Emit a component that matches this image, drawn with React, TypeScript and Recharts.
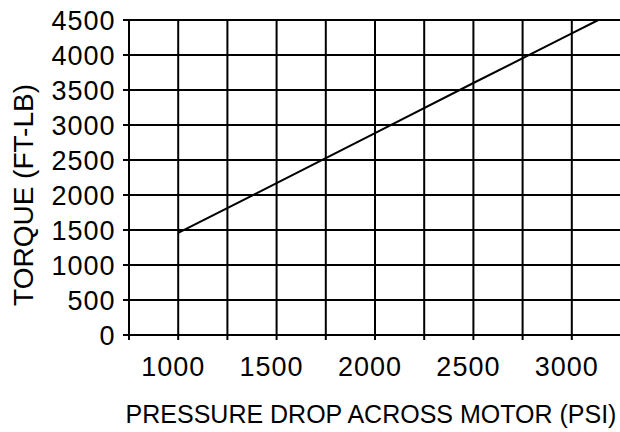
import React from 'react';
import { LineChart, Line, XAxis, YAxis, CartesianGrid } from 'recharts';

const pressure = [1000, 1500, 2000, 2500, 3000, 3135];
const torque = [1460, 2170, 2885, 3600, 4310, 4500];

const xTicks = [750, 1000, 1250, 1500, 1750, 2000, 2250, 2500, 2750, 3000, 3250];
const yTicks = [0, 500, 1000, 1500, 2000, 2500, 3000, 3500, 4000, 4500];

const xTitle = 'PRESSURE DROP ACROSS MOTOR (PSI)';
const yTitle = 'TORQUE (FT-LB)';

const FONT = '"Liberation Sans", Arial, sans-serif';

const chartData = pressure.map((p, i) => ({ psi: p, torque: torque[i] }));

const YTitle = ({ viewBox }: any) => {
  const cy = viewBox.y + viewBox.height / 2 + 17.5;
  return (
    <text
      x={33}
      y={cy}
      transform={`rotate(-90, 33, ${cy})`}
      textAnchor="middle"
      fontSize={28}
      fontFamily={FONT}
      fill="#000"
    >
      {yTitle}
    </text>
  );
};

export default function App() {
  return (
    <div style={{ position: 'absolute', left: 0, top: 0, width: 620, height: 432, overflow: 'hidden', background: '#fff' }}>
      <LineChart width={621} height={432} data={chartData} margin={{ top: 20, right: 0, left: 0, bottom: 0 }}>
        <CartesianGrid stroke="#000" strokeWidth={2} />
        <XAxis
          dataKey="psi"
          type="number"
          domain={[750, 3250]}
          ticks={xTicks}
          interval={0}
          height={97}
          tickSize={5}
          tickMargin={17}
          axisLine={{ stroke: '#000', strokeWidth: 2 }}
          tickLine={{ stroke: '#000', strokeWidth: 2 }}
          tick={{ fill: '#000', fontSize: 27, fontFamily: FONT, letterSpacing: 1, dx: -5 }}
          tickFormatter={(v: number) => (v >= 1000 && v % 500 === 0 ? String(v) : '')}
          label={{
            value: xTitle,
            position: 'insideBottom',
            offset: 9,
            dx: -4,
            fill: '#000',
            fontSize: 25,
            fontFamily: FONT,
          }}
        />
        <YAxis
          type="number"
          domain={[0, 4500]}
          ticks={yTicks}
          interval={0}
          width={129}
          tickSize={6}
          tickMargin={7.5}
          axisLine={{ stroke: '#000', strokeWidth: 2 }}
          tickLine={{ stroke: '#000', strokeWidth: 2 }}
          tick={{ fill: '#000', fontSize: 27, fontFamily: FONT, letterSpacing: 1 }}
          label={{ content: YTitle }}
        />
        <Line
          type="linear"
          dataKey="torque"
          stroke="#000"
          strokeWidth={2}
          dot={false}
          isAnimationActive={false}
        />
      </LineChart>
    </div>
  );
}
